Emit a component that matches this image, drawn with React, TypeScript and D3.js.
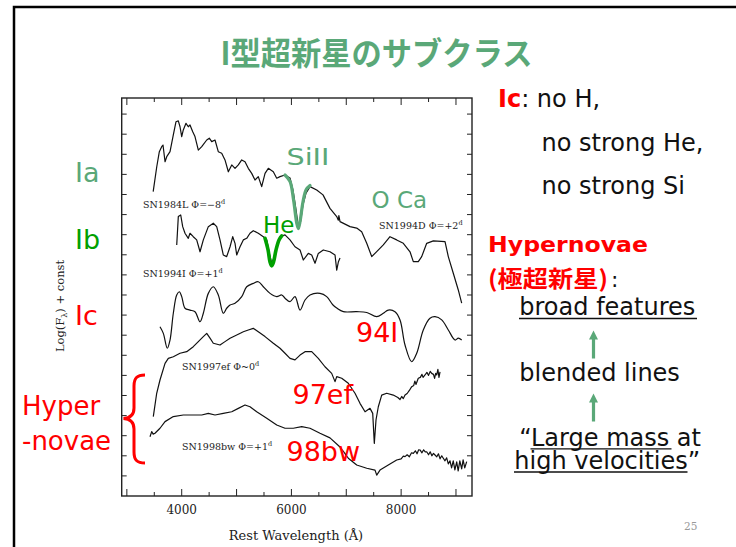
import React from "react";
import * as d3 from "d3";

type Pt = [number, number];

// Rest wavelength (Å) vs log flux + const, one array per spectrum
const sn1984L: Pt[] = [
  [3480, 15.14], [3545, 16.38], [3592, 17.13], [3635, 17.38], [3659, 17.46], [3696, 16.63], [3727, 16.88],
  [3787, 17.13], [3847, 17.96], [3896, 18.62], [3938, 18.66], [3969, 18.37], [4000, 17.88], [4029, 18.21],
  [4078, 18.54], [4120, 18.37], [4151, 18.46], [4201, 18.12], [4242, 17.88], [4303, 17.21], [4365, 17.38],
  [4456, 17.71], [4503, 17.8], [4547, 17.63], [4607, 17.71], [4667, 17.13], [4729, 17.05], [4789, 16.72],
  [4850, 16.13], [4912, 16.47], [4972, 16.3], [5032, 16.47], [5094, 16.72], [5154, 16.63], [5214, 16.3],
  [5276, 16.05], [5336, 15.72], [5396, 15.89], [5458, 15.39], [5519, 16.05], [5579, 16.3], [5670, 16.13],
  [5732, 15.81], [5792, 15.89], [5883, 15.97], [5974, 15.82], [6029, 15.22], [6084, 14.23], [6126, 13.4],
  [6166, 13.63], [6211, 14.48], [6266, 15.07], [6339, 15.39], [6461, 15.22], [6576, 14.98], [6703, 14.31],
  [6826, 13.9], [6855, 13.72], [6865, 13.95], [6886, 13.65], [7068, 13.4], [7190, 13.33], [7281, 13.15],
  [7373, 12.57], [7464, 11.91], [7555, 12.16], [7675, 12.49], [7797, 12.9], [7919, 12.74], [8040, 12.57],
  [8162, 12.15], [8222, 11.66], [8313, 11.66], [8375, 11.91], [8466, 12.57], [8587, 12.69], [8800, 12.65],
  [8860, 11.91], [8951, 11.08], [9042, 10.25], [9104, 9.6],
];

const sn1994Ib: Pt[] = [
  [3909, 12.49], [3938, 13.9], [3982, 13.98], [4018, 13.4], [4060, 13.07], [4120, 12.82], [4151, 13.07],
  [4211, 12.9], [4273, 12.74], [4334, 12.15], [4394, 12.74], [4485, 13.4], [4576, 13.57], [4638, 13.4],
  [4698, 12.74], [4758, 11.99], [4820, 11.91], [4881, 12.4], [4930, 12.9], [4972, 12.57], [5003, 11.99],
  [5063, 12.4], [5123, 12.74], [5185, 12.82], [5245, 13.07], [5305, 13.2], [5396, 13.07], [5488, 12.9],
  [5550, 12.74], [5592, 12.14], [5641, 11.59], [5683, 11.84], [5737, 12.49], [5792, 12.9], [5883, 12.99],
  [5974, 12.74], [6065, 12.4], [6157, 12.24], [6217, 11.74], [6308, 12.07], [6370, 11.99], [6430, 11.58],
  [6490, 12.07], [6581, 12.24], [6703, 12.15], [6795, 11.99], [6826, 11.24], [6855, 11.64], [6886, 11.84],
];

const sn1994Ic: Pt[] = [
  [3604, 8.42], [3665, 8.09], [3737, 7.35], [3787, 7.76], [3847, 9.09], [3909, 10.0], [3956, 10.16],
  [4000, 9.92], [4060, 9.34], [4151, 9.25], [4242, 9.17], [4334, 8.67], [4394, 9.09], [4485, 10.08],
  [4576, 10.41], [4667, 10.0], [4758, 9.09], [4820, 9.34], [4881, 9.5], [4972, 9.59], [5094, 9.92],
  [5185, 10.41], [5305, 10.58], [5396, 10.66], [5488, 10.41], [5610, 10.08], [5732, 9.92], [5823, 10.0],
  [5883, 9.84], [5974, 9.67], [6065, 9.92], [6157, 9.25], [6248, 9.75], [6339, 10.0], [6521, 10.08],
  [6643, 9.92], [6758, 9.5], [6826, 9.35], [6946, 9.17], [7190, 9.17], [7373, 9.13], [7555, 8.92],
  [7675, 9.09], [7766, 9.25], [7888, 9.17], [7980, 8.76], [8071, 7.51], [8193, 6.68], [8284, 7.1],
  [8404, 8.26], [8526, 8.84], [8618, 8.92], [8740, 8.76], [8860, 8.26], [8982, 7.76], [9042, 7.85],
  [9104, 7.76],
];

const sn1997ef: Pt[] = [
  [3482, 3.95], [3544, 5.11], [3604, 5.77], [3696, 6.6], [3756, 6.85], [3847, 6.93], [3969, 7.1],
  [4091, 7.18], [4211, 7.43], [4303, 7.68], [4394, 7.93], [4456, 8.09], [4516, 7.85], [4576, 7.6],
  [4698, 7.51], [4789, 7.68], [4881, 7.85], [5003, 8.01], [5123, 8.17], [5214, 8.26], [5305, 8.34],
  [5396, 8.17], [5519, 7.93], [5670, 7.6], [5792, 7.35], [5883, 7.1], [5974, 6.85], [6065, 6.77],
  [6157, 7.01], [6248, 7.18], [6370, 7.18], [6490, 6.85], [6612, 6.43], [6734, 6.1], [6795, 5.69],
  [6826, 5.94], [6917, 5.86], [7037, 5.61], [7159, 5.11], [7250, 4.61], [7342, 4.19], [7433, 4.36],
  [7482, 4.11], [7511, 2.62], [7542, 3.78], [7584, 4.44], [7646, 5.02], [7737, 5.11], [7857, 5.02],
  [7940, 4.9], [7980, 4.8], [8010, 4.95], [8040, 4.85], [8071, 5.02], [8110, 5.1], [8150, 5.25],
  [8193, 5.44], [8230, 5.5], [8250, 5.72], [8270, 5.55], [8313, 5.86], [8350, 5.9], [8380, 6.05],
  [8400, 5.9], [8435, 6.02], [8470, 6.15], [8500, 6.0], [8530, 6.2], [8557, 6.1], [8590, 6.05],
  [8610, 5.85], [8630, 6.1], [8649, 6.02], [8670, 6.3], [8690, 5.9], [8709, 6.18],
];

const sn1998bw: Pt[] = [
  [3422, 2.95], [3453, 3.2], [3480, 3.08], [3513, 3.12], [3604, 3.37], [3696, 3.7], [3847, 3.95],
  [4029, 4.03], [4211, 4.03], [4365, 4.03], [4485, 4.11], [4607, 4.03], [4758, 4.11], [4912, 4.19],
  [5032, 4.36], [5154, 4.53], [5245, 4.44], [5367, 4.19], [5550, 3.87], [5732, 3.53], [5883, 3.37],
  [6034, 3.37], [6188, 3.45], [6339, 3.37], [6521, 3.12], [6703, 2.89], [6886, 2.44], [7037, 1.88],
  [7190, 1.54], [7373, 1.38], [7524, 1.29], [7555, 1.04], [7615, 1.29], [7766, 1.54], [7919, 1.79],
  [8000, 1.85], [8040, 1.98], [8071, 1.96], [8110, 2.05], [8150, 1.95], [8190, 2.15], [8222, 2.12],
  [8260, 2.25], [8290, 2.1], [8320, 2.3], [8344, 2.29], [8380, 2.15], [8410, 2.3], [8440, 2.2],
  [8466, 2.2], [8500, 2.05], [8530, 2.2], [8560, 2.0], [8590, 2.12], [8618, 2.04], [8650, 1.95],
  [8680, 2.1], [8710, 1.85], [8740, 2.0], [8769, 1.88], [8800, 1.75], [8830, 1.9], [8860, 1.6],
  [8891, 1.75], [8920, 1.4], [8950, 1.75], [8980, 1.3], [9013, 1.7], [9040, 1.25], [9070, 1.75],
  [9104, 1.35], [9130, 1.8], [9160, 1.4], [9195, 1.71],
];

// Highlighted absorption features
const siIIFeature: Pt[] = [
  [5883, 15.97], [5974, 15.65], [6040, 14.7], [6095, 13.6], [6126, 13.3], [6160, 13.7], [6215, 14.7],
  [6270, 15.25], [6339, 15.45],
];
const heFeature: Pt[] = [
  [5519, 12.82], [5574, 12.24], [5610, 11.64], [5641, 11.45], [5674, 11.64], [5719, 12.24], [5774, 12.74],
  [5823, 12.94],
];

const xTickValues = d3.range(3000, 9001, 500);
const xTickLabels = [4000, 6000, 8000];
const yTickValues = d3.range(1, 20);

const GREEN = "#5aa878";
const BRIGHT_GREEN = "#00a000";
const RED = "#ff0000";

const plot = { left: 121.7, right: 472, top: 98, bottom: 496 };

const x = d3.scaleLinear().domain([2906, 9292]).range([plot.left, plot.right]);
const y = d3.scaleLinear().domain([0, 19.8]).range([plot.bottom, plot.top]);

const jagged = d3.line<Pt>().x((d) => x(d[0])).y((d) => y(d[1]));
const smooth = d3
  .line<Pt>()
  .x((d) => x(d[0]))
  .y((d) => y(d[1]))
  .curve(d3.curveCatmullRom.alpha(0.5));

const serif = "'DejaVu Serif', serif";
const sans = "'DejaVu Sans', Verdana, sans-serif";
const cjk = "'Noto Sans CJK JP', sans-serif";

function SpectrumLabel({ x0, y0, name, phase }: { x0: number; y0: number; name: string; phase: string }) {
  return (
    <text x={x0} y={y0} fontFamily={serif} fontSize={9.5} fill="#222">
      {name} {phase}
      <tspan fontSize={6.5} dy={-4}>d</tspan>
    </text>
  );
}

function Arrow({ cx, yTop, yBottom }: { cx: number; yTop: number; yBottom: number }) {
  return (
    <g fill={GREEN} stroke="none">
      <rect x={cx - 1.6} y={yTop + 7} width={3.2} height={yBottom - yTop - 7} />
      <polygon points={`${cx},${yTop} ${cx - 4.5},${yTop + 9} ${cx + 4.5},${yTop + 9}`} />
    </g>
  );
}

export default function App() {
  return (
    <svg
      width={736}
      height={547}
      style={{ position: "absolute", left: 0, top: 0, background: "#fff" }}
    >
      {/* slide frame */}
      <rect x={14} y={7} width={740} height={560} fill="none" stroke="#000" strokeWidth={2.5} />

      {/* title */}
      <text
        x={220.5}
        y={65}
        fontFamily={cjk}
        fontWeight={700}
        fontSize={32}
        fill={GREEN}
        textLength={312}
        lengthAdjust="spacingAndGlyphs"
      >
        I型超新星のサブクラス
      </text>

      {/* plot frame */}
      <rect
        x={plot.left}
        y={plot.top}
        width={plot.right - plot.left}
        height={plot.bottom - plot.top}
        fill="#fff"
        stroke="#222"
        strokeWidth={1.4}
      />

      {/* ticks */}
      <g stroke="#222" strokeWidth={1}>
        {xTickValues.map((v) => {
          const len = v % 1000 === 0 ? 7 : 4;
          return (
            <g key={`xt${v}`}>
              <line x1={x(v)} x2={x(v)} y1={plot.top} y2={plot.top + len} />
              <line x1={x(v)} x2={x(v)} y1={plot.bottom} y2={plot.bottom - len} />
            </g>
          );
        })}
        {yTickValues.map((v) => (
          <g key={`yt${v}`}>
            <line x1={plot.left} x2={plot.left + 5} y1={y(v)} y2={y(v)} />
            <line x1={plot.right} x2={plot.right - 5} y1={y(v)} y2={y(v)} />
          </g>
        ))}
      </g>
      {xTickLabels.map((v) => (
        <text key={`xl${v}`} x={x(v)} y={514} textAnchor="middle" fontFamily={serif} fontSize={12} fill="#222">
          {v}
        </text>
      ))}
      <text x={296} y={540} textAnchor="middle" fontFamily={serif} fontSize={13} fill="#222">
        Rest Wavelength (Å)
      </text>
      <text
        transform="translate(64,306) rotate(-90)"
        textAnchor="middle"
        fontFamily={serif}
        fontSize={11.5}
        fill="#222"
      >
        Log(F<tspan fontSize={8} dy={3}>λ</tspan>
        <tspan dy={-3}>) + const</tspan>
      </text>

      {/* spectra */}
      <g fill="none" stroke="#111" strokeWidth={1.2} strokeLinejoin="round">
        <path d={jagged(sn1984L) ?? ""} />
        <path d={jagged(sn1994Ib) ?? ""} />
        <path d={smooth(sn1994Ic) ?? ""} />
        <path d={jagged(sn1997ef) ?? ""} />
        <path d={jagged(sn1998bw) ?? ""} />
      </g>
      <path d={smooth(siIIFeature) ?? ""} fill="none" stroke={GREEN} strokeWidth={3.2} strokeLinecap="round" />
      <path d={smooth(heFeature) ?? ""} fill="none" stroke={BRIGHT_GREEN} strokeWidth={3.6} strokeLinecap="round" />

      {/* spectrum names */}
      <SpectrumLabel x0={143} y0={208} name="SN1984L" phase="Φ=−8" />
      <SpectrumLabel x0={143} y0={277} name="SN1994I" phase="Φ=+1" />
      <SpectrumLabel x0={379} y0={229} name="SN1994D" phase="Φ=+2" />
      <SpectrumLabel x0={182} y0={370} name="SN1997ef" phase="Φ~0" />
      <SpectrumLabel x0={182} y0={450} name="SN1998bw" phase="Φ=+1" />

      {/* line identifications */}
      <text x={286.5} y={165} fontFamily={sans} fontSize={23} fill={GREEN} textLength={43} lengthAdjust="spacingAndGlyphs">
        SiII
      </text>
      <text x={263} y={232.5} fontFamily={sans} fontSize={23} fill={BRIGHT_GREEN}>
        He
      </text>
      <text x={371.5} y={207.5} fontFamily={sans} fontSize={23} fill={GREEN}>
        O Ca
      </text>
      <text x={356} y={341.5} fontFamily={sans} fontSize={27} fill={RED}>
        94I
      </text>
      <text x={292.5} y={404} fontFamily={sans} fontSize={27} fill={RED}>
        97ef
      </text>
      <text x={286.5} y={461} fontFamily={sans} fontSize={27} fill={RED}>
        98bw
      </text>

      {/* class labels on the left */}
      <text x={75} y={181.5} fontFamily={sans} fontSize={27} fill={GREEN}>
        Ia
      </text>
      <text x={75} y={248.5} fontFamily={sans} fontSize={27} fill={BRIGHT_GREEN}>
        Ib
      </text>
      <text x={75} y={325} fontFamily={sans} fontSize={27} fill={RED}>
        Ic
      </text>
      <text x={22} y={415} fontFamily={sans} fontSize={26} fill={RED}>
        Hyper
      </text>
      <text x={22} y={450} fontFamily={sans} fontSize={26} fill={RED}>
        -novae
      </text>
      <path
        d="M145,375 C137,375 134,378 134,386 L134,408 C134,414 131,418 123.5,418.5 C131,419 134,423 134,429 L134,452 C134,460 137,463 145,463"
        fill="none"
        stroke={RED}
        strokeWidth={3}
      />

      {/* notes on the right */}
      <text x={498} y={106.5} fontFamily={sans} fontSize={24} fill="#111">
        <tspan fill={RED} fontWeight={700}>Ic</tspan>: no H,
      </text>
      <text x={541.5} y={151} fontFamily={sans} fontSize={24} fill="#111">
        no strong He,
      </text>
      <text x={541.5} y={193.5} fontFamily={sans} fontSize={24} fill="#111">
        no strong Si
      </text>
      <text x={488} y={252} fontFamily={sans} fontSize={22} fontWeight={700} fill={RED} textLength={160} lengthAdjust="spacingAndGlyphs">
        Hypernovae
      </text>
      <text x={488} y={286.5} fontFamily={cjk} fontSize={23} fontWeight={700} fill={RED} textLength={120} lengthAdjust="spacingAndGlyphs">
        (極超新星)
      </text>
      <text x={611} y={286.5} fontFamily={sans} fontSize={22} fill="#111">
        :
      </text>
      <text x={519.3} y={315} fontFamily={sans} fontSize={24} fill="#111">
        broad features
      </text>
      <line x1={519} x2={697} y1={318.5} y2={318.5} stroke="#111" strokeWidth={1.3} />
      <Arrow cx={593.5} yTop={330.5} yBottom={358.5} />
      <text x={519.3} y={381} fontFamily={sans} fontSize={24} fill="#111">
        blended lines
      </text>
      <Arrow cx={593.5} yTop={393.5} yBottom={421.5} />
      <text x={519.3} y={446} fontFamily={sans} fontSize={24} fill="#111">
        “Large mass at
      </text>
      <line x1={530.5} x2={671.5} y1={448.8} y2={448.8} stroke="#111" strokeWidth={1.3} />
      <text x={514.3} y={468.5} fontFamily={sans} fontSize={24} fill="#111">
        high velocities”
      </text>
      <line x1={514} x2={687.5} y1={472} y2={472} stroke="#111" strokeWidth={1.3} />

      <text x={684} y={530} fontFamily={serif} fontSize={10.5} fill="#999">
        25
      </text>
    </svg>
  );
}
